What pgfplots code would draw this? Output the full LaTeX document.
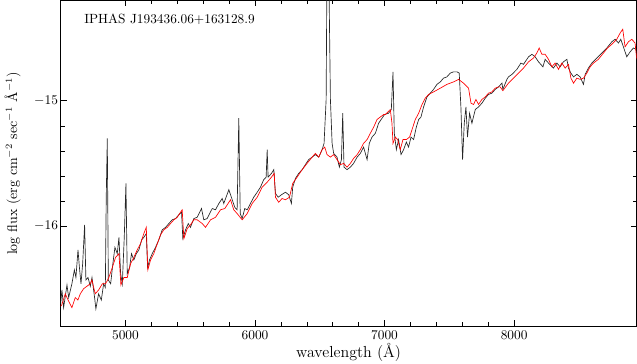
\documentclass[border=0pt]{standalone}
\usepackage{pgfplots}
\pgfplotsset{compat=1.18}

\pgfplotstableread{
lam flux
4500 -16.62
4510 -16.51
4523 -16.65
4549 -16.47
4562 -16.57
4587 -16.46
4606 -16.35
4618 -16.41
4634 -16.19
4645 -16.33
4657 -16.46
4670 -16.30
4685 -15.99
4695 -16.43
4711 -16.41
4729 -16.48
4742 -16.41
4762 -16.57
4772 -16.66
4793 -16.54
4814 -16.59
4832 -16.46
4845 -16.49
4852 -15.77
4860 -15.30
4868 -16.43
4886 -16.46
4903 -16.30
4919 -16.17
4937 -16.22
4950 -16.09
4963 -16.38
4976 -16.46
4991 -16.09
5004 -15.66
5014 -16.38
5032 -16.33
5047 -16.22
5065 -16.27
5084 -16.22
5104 -16.19
5125 -16.11
5142 -16.09
5161 -16.06
5171 -16.33
5186 -16.27
5207 -16.22
5232 -16.17
5258 -16.11
5284 -16.03
5310 -16.01
5335 -15.98
5361 -15.95
5387 -15.94
5412 -15.91
5433 -15.89
5443 -16.10
5464 -16.03
5485 -15.98
5502 -16.01
5528 -15.94
5554 -15.93
5587 -15.86
5605 -15.95
5631 -15.94
5670 -15.86
5695 -15.87
5721 -15.82
5747 -15.78
5759 -15.82
5798 -15.71
5824 -15.79
5844 -15.85
5862 -15.87
5875 -15.14
5886 -15.90
5901 -15.94
5921 -15.86
5940 -15.87
5965 -15.82
5990 -15.77
6017 -15.73
6042 -15.69
6067 -15.63
6086 -15.61
6094 -15.39
6101 -15.61
6127 -15.58
6145 -15.55
6158 -15.74
6179 -15.77
6204 -15.75
6235 -15.73
6260 -15.75
6281 -15.82
6291 -15.69
6312 -15.62
6337 -15.58
6364 -15.55
6389 -15.51
6414 -15.47
6441 -15.45
6466 -15.43
6492 -15.45
6518 -15.39
6533 -15.34
6549 -14.99
6555 -14.00
6557 -13.50
6568 -13.50
6570 -14.00
6582 -14.99
6595 -15.34
6607 -15.42
6633 -15.45
6651 -15.53
6667 -15.47
6677 -15.10
6687 -15.53
6710 -15.55
6736 -15.53
6761 -15.50
6788 -15.45
6813 -15.42
6838 -15.37
6865 -15.47
6882 -15.34
6903 -15.29
6929 -15.26
6954 -15.18
6980 -15.14
7000 -15.11
7031 -15.10
7052 -15.07
7065 -14.77
7075 -15.26
7091 -15.39
7108 -15.31
7127 -15.43
7147 -15.39
7168 -15.33
7185 -15.37
7204 -15.29
7224 -15.31
7245 -15.21
7263 -15.15
7281 -15.13
7301 -15.05
7327 -14.97
7353 -14.94
7378 -14.91
7404 -14.87
7430 -14.85
7455 -14.82
7481 -14.81
7507 -14.78
7532 -14.77
7559 -14.77
7576 -14.78
7589 -15.05
7602 -15.47
7615 -15.18
7628 -15.05
7640 -15.29
7656 -15.10
7674 -15.18
7700 -15.07
7725 -15.05
7751 -15.02
7777 -14.98
7802 -14.95
7828 -14.94
7854 -14.91
7879 -14.89
7906 -14.86
7913 -14.91
7944 -14.83
7956 -14.81
7983 -14.79
8021 -14.75
8052 -14.70
8072 -14.71
8111 -14.65
8137 -14.63
8162 -14.65
8188 -14.69
8222 -14.73
8239 -14.67
8265 -14.70
8303 -14.74
8330 -14.70
8355 -14.73
8380 -14.69
8407 -14.67
8419 -14.74
8438 -14.78
8458 -14.81
8484 -14.79
8509 -14.81
8535 -14.87
8548 -14.79
8573 -14.74
8599 -14.70
8638 -14.66
8677 -14.62
8715 -14.58
8754 -14.53
8779 -14.51
8805 -14.54
8823 -14.51
8843 -14.57
8869 -14.65
8895 -14.61
8920 -14.58
8941 -14.59
}\observed

\pgfplotstableread{
lam flux
4500 -16.64
4508 -16.63
4536 -16.54
4562 -16.60
4587 -16.65
4613 -16.57
4633 -16.59
4652 -16.54
4677 -16.50
4703 -16.48
4729 -16.46
4741 -16.43
4767 -16.54
4793 -16.51
4822 -16.46
4847 -16.46
4872 -16.41
4899 -16.33
4924 -16.25
4950 -16.22
4965 -16.47
4988 -16.41
5014 -16.41
5040 -16.30
5065 -16.25
5091 -16.19
5117 -16.14
5142 -16.06
5161 -16.01
5173 -16.35
5194 -16.27
5219 -16.22
5246 -16.14
5271 -16.07
5296 -16.03
5323 -16.01
5348 -15.98
5374 -15.95
5400 -15.93
5425 -15.89
5438 -15.87
5451 -16.10
5477 -16.02
5502 -15.99
5528 -15.95
5554 -15.95
5593 -15.98
5618 -16.01
5657 -15.95
5695 -15.93
5734 -15.87
5767 -15.86
5811 -15.79
5836 -15.87
5862 -15.90
5901 -15.95
5940 -15.90
5978 -15.82
6017 -15.77
6055 -15.69
6094 -15.65
6127 -15.61
6148 -15.58
6158 -15.77
6183 -15.81
6209 -15.78
6235 -15.79
6266 -15.77
6291 -15.66
6325 -15.61
6364 -15.55
6402 -15.50
6441 -15.45
6466 -15.42
6492 -15.45
6518 -15.39
6538 -15.37
6556 -15.43
6582 -15.45
6607 -15.43
6633 -15.47
6659 -15.51
6684 -15.50
6710 -15.53
6736 -15.50
6761 -15.46
6788 -15.43
6813 -15.39
6838 -15.34
6865 -15.31
6890 -15.26
6916 -15.21
6942 -15.15
6967 -15.13
6993 -15.11
7006 -15.11
7044 -15.07
7057 -15.18
7065 -15.34
7083 -15.29
7101 -15.31
7121 -15.39
7142 -15.31
7168 -15.31
7193 -15.29
7212 -15.23
7237 -15.15
7263 -15.10
7289 -15.03
7314 -14.98
7340 -14.95
7378 -14.93
7430 -14.90
7481 -14.87
7532 -14.85
7571 -14.83
7609 -14.86
7648 -14.90
7667 -15.02
7687 -15.03
7705 -14.99
7725 -15.03
7751 -14.99
7777 -14.97
7802 -14.94
7828 -14.93
7854 -14.90
7879 -14.89
7892 -14.89
7913 -14.92
7956 -14.86
7995 -14.82
8033 -14.78
8072 -14.74
8111 -14.69
8149 -14.66
8175 -14.62
8193 -14.58
8214 -14.63
8239 -14.63
8265 -14.67
8291 -14.73
8316 -14.70
8342 -14.75
8368 -14.70
8394 -14.74
8419 -14.71
8438 -14.82
8458 -14.86
8484 -14.82
8509 -14.83
8535 -14.82
8561 -14.78
8586 -14.73
8612 -14.70
8650 -14.67
8689 -14.62
8720 -14.58
8754 -14.55
8792 -14.51
8818 -14.46
8838 -14.43
8856 -14.57
8882 -14.53
8908 -14.51
8933 -14.54
8946 -14.67
}\model

\begin{document}
\begin{tikzpicture}
\begin{axis}[
    scale only axis,
    width=432pt, height=244.5pt,
    xmin=4500, xmax=8945,
    ymin=-16.8, ymax=-14.2,
    xtick={5000,6000,7000,8000},
    ytick={-16,-15},
    minor x tick num=4,
    minor y tick num=4,
    tick align=inside,
    major tick length=4.5pt,
    minor tick length=3pt,
    scaled x ticks=false,
    /pgf/number format/1000 sep={},
    tick label style={font=\normalsize},
    yticklabel style={xshift=1.5pt},
    xlabel={wavelength (\AA)},
    ylabel={log flux (erg cm$^{-2}$ sec$^{-1}$ \AA$^{-1}$)},
    xlabel style={at={(axis description cs:0.5,-0.0951)}, anchor=base,
        inner ysep=1.5pt, font=\fontsize{12}{14}\selectfont},
    ylabel style={at={(axis description cs:-0.0833,0.5)}, anchor=center,
        inner ysep=3.5pt, font=\fontsize{10.5}{12}\selectfont},
    axis line style={line width=0.6pt},
    every tick/.style={black, line width=0.4pt},
    clip=true,
]
\addplot[black!85, line width=0.5pt] table[x=lam, y=flux] {\observed};
\addplot[red, line width=0.5pt] table[x=lam, y=flux] {\model};
\node[anchor=west] at (rel axis cs:0.033,0.942) {IPHAS J193436.06+163128.9};
\end{axis}
\end{tikzpicture}
\end{document}
